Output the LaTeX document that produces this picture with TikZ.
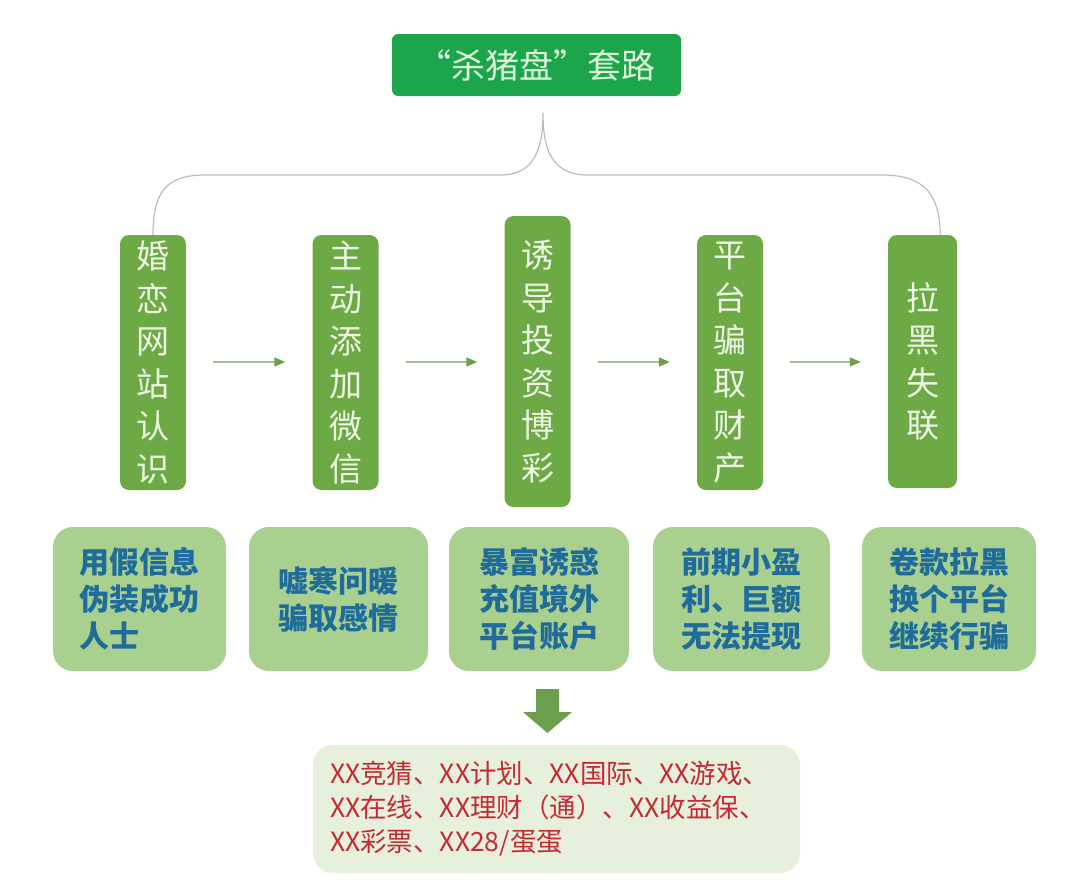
\documentclass[tikz,border=0pt]{standalone}
\usepackage{fontspec}
\setmainfont{Noto Sans CJK SC}
\usetikzlibrary{arrows.meta}
\definecolor{ScamTitle}{HTML}{1DA54B}
\definecolor{ScamTitleText}{HTML}{DDF4DA}
\definecolor{ScamStage}{HTML}{6DAA45}
\definecolor{ScamStageText}{HTML}{EEF6E4}
\definecolor{ScamNote}{HTML}{A9D08E}
\definecolor{ScamNoteText}{HTML}{1F6C9C}
\definecolor{ScamList}{HTML}{E6F0DD}
\definecolor{ScamListText}{HTML}{C62A30}
\definecolor{ScamBrace}{HTML}{BDBDB4}
\definecolor{ScamArrow}{HTML}{A3C394}
\definecolor{ScamArrowHead}{HTML}{6C9F4B}
\tikzset{
  titlebox/.style={fill=ScamTitle,text=ScamTitleText,rounded corners=6pt,
    minimum width=289pt,minimum height=62pt,
    font=\fontsize{34}{38}\selectfont},
  stagebox/.style={fill=ScamStage,text=ScamStageText,rounded corners=9pt,
    minimum width=66pt,minimum height=255pt,inner sep=0pt,align=center,
    font=\fontsize{33}{42.5}\selectfont},
  notebox/.style={fill=ScamNote,text=ScamNoteText,rounded corners=20pt,
    minimum height=144pt,inner sep=0pt,align=left,
    font=\fontsize{30}{37}\selectfont\bfseries},
  listbox/.style={fill=ScamList,text=ScamListText,rounded corners=20pt,
    minimum height=128pt,inner xsep=17pt,text width=453pt,align=left,
    font=\fontsize{26.5}{34}\selectfont},
  stepline/.style={ScamArrow,line width=1.3pt,
    -{Triangle[length=11pt,width=9pt,color=ScamArrowHead]},
    shorten <=27pt,shorten >=27pt},
}

\begin{document}
\begin{tikzpicture}[x=1pt,y=-1pt]
        \useasboundingbox (0,0) rectangle (1080,886);
        \node[titlebox] (title) at (536.5,65) {“杀猪盘”套路};
        % the five stages
        \node[stagebox] (s1) at (153,362.5) {婚\\恋\\网\\站\\认\\识};
        \node[stagebox] (s2) at (345.5,362.5) {主\\动\\添\\加\\微\\信};
        \node[stagebox,minimum height=291pt] (s3) at (537.5,361.5)
          {诱\\导\\投\\资\\博\\彩};
        \node[stagebox] (s4) at (730,362.5) {平\\台\\骗\\取\\财\\产};
        \node[stagebox,minimum height=253pt,minimum width=69pt] (s5)
          at (922.5,361.5) {拉\\黑\\失\\联};
        \foreach \a/\b in {s1/s2,s2/s3,s3/s4,s4/s5}
          \draw[stepline] (\a.east |- 0,362) -- (\b.west |- 0,362);
        % brace under the title
        \coordinate (tip) at (543,113);
        \draw[ScamBrace,line width=1.2pt]
          (s1.north) .. controls (153,192) and (166,175) .. (205,175)
          -- (500,175) .. controls (534,175) and (543,150) .. (tip)
          .. controls (543,150) and (552,175) .. (588,175)
          -- (882,175) .. controls (925,175) and (940,195)
          .. ([xshift=-17pt]s5.north east);
        % what the swindler does at each stage
        \node[notebox,minimum width=173pt] (n1) at (139.5,599)
          {用假信息\\伪装成功\\人士};
        \node[notebox,minimum width=179pt] (n2) at (338.5,599)
          {嘘寒问暖\\骗取感情};
        \node[notebox,minimum width=180pt] (n3) at (539,599)
          {暴富诱惑\\充值境外\\平台账户};
        \node[notebox,minimum width=177pt] (n4) at (741.5,599)
          {前期小盈\\利、巨额\\无法提现};
        \node[notebox,minimum width=174pt] (n5) at (949,599)
          {卷款拉黑\\换个平台\\继续行骗};
        \node[listbox] (list) at (556.5,809)
          {XX竞猜、XX计划、XX国际、XX游戏、\\XX在线、XX理财（通）、XX收益保、\\XX彩票、XX28/蛋蛋};
        \fill[ScamArrowHead] (536,689) -- (559,689) -- (559,712) -- (572,712)
          -- (547.5,733) -- (523,712) -- (536,712) -- cycle;
\end{tikzpicture}
\end{document}
